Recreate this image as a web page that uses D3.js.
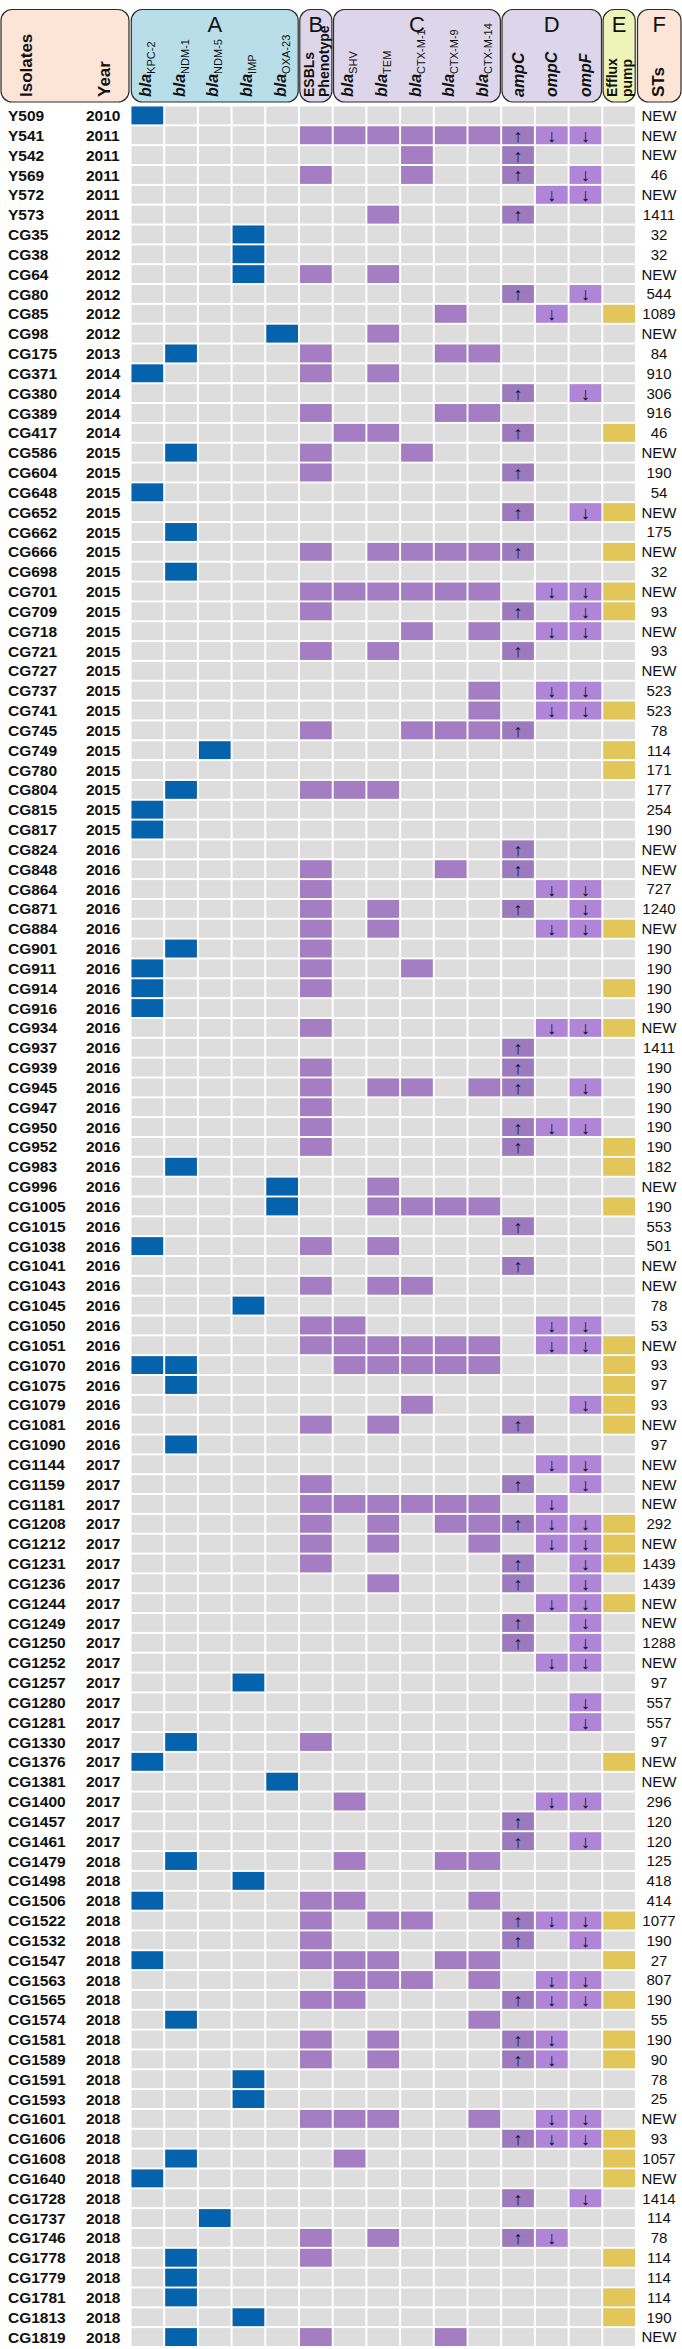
<!DOCTYPE html>
<html><head><meta charset="utf-8">
<script src="https://cdn.jsdelivr.net/npm/d3@7"></script>
<style>body{margin:0;background:#fff}svg{display:block;font-family:"Liberation Sans",Arial,sans-serif}</style>
</head><body><svg id="c" width="682" height="2349"></svg>
<script>
const isolates = ["Y509","Y541","Y542","Y569","Y572","Y573","CG35","CG38","CG64","CG80","CG85","CG98","CG175","CG371","CG380","CG389","CG417","CG586","CG604","CG648","CG652","CG662","CG666","CG698","CG701","CG709","CG718","CG721","CG727","CG737","CG741","CG745","CG749","CG780","CG804","CG815","CG817","CG824","CG848","CG864","CG871","CG884","CG901","CG911","CG914","CG916","CG934","CG937","CG939","CG945","CG947","CG950","CG952","CG983","CG996","CG1005","CG1015","CG1038","CG1041","CG1043","CG1045","CG1050","CG1051","CG1070","CG1075","CG1079","CG1081","CG1090","CG1144","CG1159","CG1181","CG1208","CG1212","CG1231","CG1236","CG1244","CG1249","CG1250","CG1252","CG1257","CG1280","CG1281","CG1330","CG1376","CG1381","CG1400","CG1457","CG1461","CG1479","CG1498","CG1506","CG1522","CG1532","CG1547","CG1563","CG1565","CG1574","CG1581","CG1589","CG1591","CG1593","CG1601","CG1606","CG1608","CG1640","CG1728","CG1737","CG1746","CG1778","CG1779","CG1781","CG1813","CG1819"];
const years = [2010,2011,2011,2011,2011,2011,2012,2012,2012,2012,2012,2012,2013,2014,2014,2014,2014,2015,2015,2015,2015,2015,2015,2015,2015,2015,2015,2015,2015,2015,2015,2015,2015,2015,2015,2015,2015,2016,2016,2016,2016,2016,2016,2016,2016,2016,2016,2016,2016,2016,2016,2016,2016,2016,2016,2016,2016,2016,2016,2016,2016,2016,2016,2016,2016,2016,2016,2016,2017,2017,2017,2017,2017,2017,2017,2017,2017,2017,2017,2017,2017,2017,2017,2017,2017,2017,2017,2017,2018,2018,2018,2018,2018,2018,2018,2018,2018,2018,2018,2018,2018,2018,2018,2018,2018,2018,2018,2018,2018,2018,2018,2018,2018];
const sts = ["NEW","NEW","NEW","46","NEW","1411","32","32","NEW","544","1089","NEW","84","910","306","916","46","NEW","190","54","NEW","175","NEW","32","NEW","93","NEW","93","NEW","523","523","78","114","171","177","254","190","NEW","NEW","727","1240","NEW","190","190","190","190","NEW","1411","190","190","190","190","190","182","NEW","190","553","501","NEW","NEW","78","53","NEW","93","97","93","NEW","97","NEW","NEW","NEW","292","NEW","1439","1439","NEW","NEW","1288","NEW","97","557","557","97","NEW","NEW","296","120","120","125","418","414","1077","190","27","807","190","55","190","90","78","25","NEW","93","1057","NEW","1414","114","78","114","114","114","190","NEW"];
// column indices present per isolate (0-4 carbapenemase, 5 ESBL phenotype, 6-10 ESBL genes, 11 ampC, 12 ompC, 13 ompF, 14 efflux)
const present = [
[0],[5,6,7,8,9,10,11,12,13],[8,11],[5,8,11,13],[12,13],[7,11],[3],[3],[3,5,7],[11,13],[9,12,14],[4,7],
[1,5,9,10],[0,5,7],[11,13],[5,9,10],[6,7,11,14],[1,5,8],[5,11],[0],[11,13,14],[1],[5,7,8,9,10,11,14],[1],
[5,6,7,8,9,10,12,13,14],[5,11,13,14],[8,10,12,13],[5,7,11],[],[10,12,13],[10,12,13,14],[5,8,9,10,11],[2,14],[14],
[1,5,6,7],[0],[0],[11],[5,9,11],[5,12,13],[5,7,11,13],[5,7,12,13,14],[1,5],[0,5,8],[0,5,14],[0],[5,12,13,14],
[11],[5,11],[5,7,8,10,11,13],[5],[5,11,12,13],[5,11,14],[1,14],[4,7],[4,7,8,9,10,14],[11],[0,5,7],[11],[5,7,8],
[3],[5,6,12,13],[5,6,7,8,9,10,12,13,14],[0,1,6,7,8,9,10,14],[1,14],[8,13,14],[5,7,11,14],[1],[12,13],[5,11,13],
[5,6,7,8,9,10,12],[5,7,9,10,11,12,13,14],[5,7,10,12,13,14],[5,11,13,14],[7,11,13],[12,13,14],[11,13],[11,13],
[12,13],[3],[13],[13],[1,5],[0,14],[4],[6,12,13],[11],[11,13],[1,6,9,10],[3],[0,5,6,10],[5,7,8,11,12,13,14],
[5,11,13],[0,5,6,7,9,10,14],[6,7,8,10,12,13],[5,6,11,12,13,14],[1,10],[5,7,11,12,14],[5,7,11,12,14],[3],[3],
[5,6,7,10,12,13],[11,12,13,14],[1,6,14],[0,14],[11,13],[2],[5,7,11,12],[1,5,14],[1],[1,14],[3,14],[1,5,9]
];
const geneBase = ["bla","bla","bla","bla","bla","ESBLs","bla","bla","bla","bla","bla","ampC","ompC","ompF","Efflux"];
const geneSub = ["KPC-2","NDM-1","NDM-5","IMP","OXA-23","Phenotype","SHV","TEM","CTX-M-1","CTX-M-9","CTX-M-14","","","","pump"];
const arrows = ["","","","","","","","","","","","↑","↓","↓",""];
const groupLetters = ["A","B","C","D","E","F"];
const groupCols = [[0,4],[5,5],[6,10],[11,13],[14,14]];

const colFill = i => i<=4 ? "#0563ad" : i<=10 ? "#a57dc2" : i===11 ? "#9c7abd" : i<=13 ? "#b085d7" : "#e2c65a";

const svg = d3.select("#c");
const x = d3.scaleBand().domain(d3.range(15)).range([130.5, 636]).paddingInner(0.06).paddingOuter(0.03);
const y = d3.scaleBand().domain(isolates).range([106.5, 2346]).paddingInner(0.1);
const step = x.step(), x0 = x.range()[0];

// header boxes
const boxes = [{x1:1, x2:x0-1.5, fill:"#fce4d6"}];
const boxFills = ["#b8dfe9","#ddd6ea","#ddd6ea","#ddd6ea","#eef3b8"];
groupCols.forEach((g,i)=>{
  boxes.push({x1: x0 + g[0]*step + 0.8, x2: x0 + (g[1]+1)*step - 0.8, fill: boxFills[i], letter: groupLetters[i]});
});
boxes.push({x1: x0 + 15*step + 1.5, x2: 681, fill:"#fce4d6", letter:"F"});
svg.append("g").selectAll("rect").data(boxes).join("rect")
  .attr("x", d=>d.x1).attr("y", 9.5).attr("width", d=>d.x2-d.x1).attr("height", 92.5)
  .attr("rx", 11).attr("fill", d=>d.fill).attr("stroke", "#2b2b2b").attr("stroke-width", 1.2);
svg.append("g").selectAll("text").data(boxes.filter(d=>d.letter)).join("text")
  .attr("x", d=>(d.x1+d.x2)/2).attr("y", 32).attr("text-anchor","middle")
  .attr("font-size", 22).attr("fill","#111").text(d=>d.letter);

// rotated header labels
function rot(cx, size, weight, style, txt){
  return svg.append("text").attr("transform", `translate(${cx},97) rotate(-90)`)
    .attr("dy","0.35em").attr("font-size", size).attr("font-weight", weight)
    .attr("font-style", style).attr("fill","#111").text(txt);
}
rot(26, 17, "bold", "normal", "Isolates");
rot(104, 17, "bold", "normal", "Year");
rot(x0 + 15*step + 22, 17, "bold", "normal", "STs");
d3.range(15).forEach(i=>{
  const cx = x(i) + x.bandwidth()/2;
  if (geneBase[i] === "bla") {
    const t = svg.append("text").attr("transform", `translate(${cx-2},97) rotate(-90)`)
      .attr("dy","0.35em").attr("fill","#111");
    t.append("tspan").attr("font-size",16).attr("font-weight","bold").attr("font-style","italic").text("bla");
    t.append("tspan").attr("font-size",11).attr("baseline-shift","-4").text(geneSub[i]);
  } else if (geneSub[i]) {
    rot(cx-7, 14, "bold", "normal", geneBase[i]);
    rot(cx+8, 14, "bold", "normal", geneSub[i]);
  } else {
    rot(cx, 16, "bold", "italic", geneBase[i]);
  }
});

// rows
const rows = isolates.map((iso,r)=>({iso, year: years[r], st: sts[r], cols: present[r]}));
const rowG = svg.append("g").selectAll("g").data(rows).join("g")
  .attr("transform", d=>`translate(0,${y(d.iso)})`);
const h = y.bandwidth();
rowG.selectAll("rect.bg").data(d3.range(15)).join("rect").attr("class","bg")
  .attr("x", i=>x(i)).attr("width", x.bandwidth()).attr("height", h).attr("fill","#dddddd");
rowG.selectAll("rect.on").data(d=>d.cols).join("rect").attr("class","on")
  .attr("x", i=>x(i)).attr("width", x.bandwidth()).attr("height", h).attr("fill", colFill);
rowG.selectAll("text.arr").data(d=>d.cols.filter(i=>arrows[i])).join("text").attr("class","arr")
  .attr("x", i=>x(i)+x.bandwidth()/2).attr("y", h/2).attr("dy","0.36em").attr("text-anchor","middle")
  .attr("font-size", 18).attr("fill","#111").text(i=>arrows[i]);
rowG.append("text").attr("x", 8).attr("y", h/2).attr("dy","0.36em")
  .attr("font-size", 15.5).attr("font-weight","bold").attr("fill","#111").text(d=>d.iso);
rowG.append("text").attr("x", 86).attr("y", h/2).attr("dy","0.36em")
  .attr("font-size", 15.5).attr("font-weight","bold").attr("fill","#111").text(d=>d.year);
rowG.append("text").attr("x", 659).attr("y", h/2).attr("dy","0.36em").attr("text-anchor","middle")
  .attr("font-size", 15).attr("fill","#111").text(d=>d.st);
</script></body></html>
